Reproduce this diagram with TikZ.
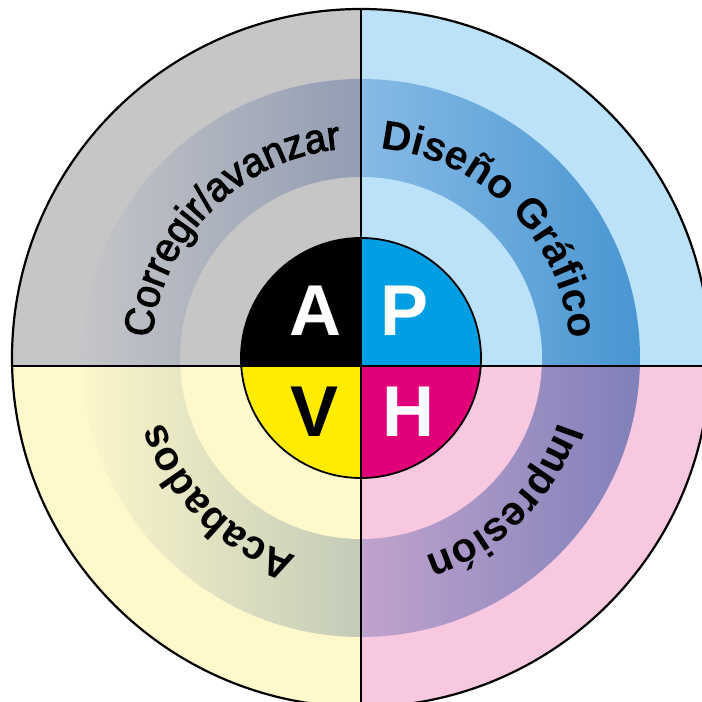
\documentclass[tikz,border=0pt]{standalone}
\usepackage{fontspec}
\setmainfont{Liberation Sans}
\newfontfamily\mediumface[FakeBold=2.5, FakeStretch=0.95]{Liberation Sans}
\usetikzlibrary{decorations.text}

% quadrant colours
\definecolor{qgray}{HTML}{C6C6C6}
\definecolor{qblue}{HTML}{BBE2F8}
\definecolor{qyellow}{HTML}{FEF8CB}
\definecolor{qpink}{HTML}{F7C8DF}
% ring gradients (left -> right)
\definecolor{bgrayL}{HTML}{C4C5C8}
\definecolor{bgrayR}{HTML}{929DB3}
\definecolor{bblueL}{HTML}{87BAE5}
\definecolor{bblueR}{HTML}{4896D2}
\definecolor{byelL}{HTML}{FCF6CA}
\definecolor{byelR}{HTML}{C3CBB8}
\definecolor{bpinkL}{HTML}{C0A3CD}
\definecolor{bpinkR}{HTML}{8080BA}
% hub colours
\definecolor{hubK}{HTML}{000000}
\definecolor{hubC}{HTML}{009FE3}
\definecolor{hubY}{HTML}{FFEC00}
\definecolor{hubM}{HTML}{E2007A}

\newcommand\bandfont{\fontsize{41pt}{41pt}\selectfont\bfseries}
\newcommand\bandmedfont{\fontsize{41pt}{41pt}\selectfont\mediumface}
\newcommand\hubfont{\fontsize{72pt}{72pt}\selectfont\bfseries}

\tikzset{
  ringtext/.style={decorate, decoration={text along path, text align=center, text={|\bandfont|#1}}},
  ringtextmed/.style={decorate, decoration={text along path, text align=center, text={|\bandmedfont|#1}}},
  hubletter/.style={inner sep=0pt, font=\hubfont},
  rim/.style={draw=black, line width=2.2pt},
  divider/.style={draw=black, line width=1.8pt},
}

\begin{document}
\begin{tikzpicture}[x=1pt,y=1pt]
\useasboundingbox (-361,-344) rectangle (341,358);

% radii and the horizontal split (slightly below the centre)
\def\Rout{349}
\def\Rband{279}
\def\Rin{181}
\def\Rhub{120}
\def\hy{-8}

% outer quadrants
\begin{scope}
  \clip (0,0) circle[radius=\Rout pt];
  \fill[qgray]   (-360,\hy) rectangle (0,360);
  \fill[qblue]   (0,\hy) rectangle (360,360);
  \fill[qyellow] (-360,-360) rectangle (0,\hy);
  \fill[qpink]   (0,-360) rectangle (360,\hy);
\end{scope}

% shaded ring
\begin{scope}
  \clip (0,0) circle[radius=\Rband pt];
  \shade[left color=bgrayL, right color=bgrayR] (-\Rband,\hy) rectangle (0,\Rband);
  \shade[left color=bblueL, right color=bblueR] (0,\hy) rectangle (\Rband,\Rband);
  \shade[left color=byelL, right color=byelR] (-\Rband,-\Rband) rectangle (0,\hy);
  \shade[left color=bpinkL, right color=bpinkR] (0,-\Rband) rectangle (\Rband,\hy);
\end{scope}
% light inner field inside the ring
\begin{scope}
  \clip (0,0) circle[radius=\Rin pt];
  \fill[qgray]   (-190,\hy) rectangle (0,190);
  \fill[qblue]   (0,\hy) rectangle (190,190);
  \fill[qyellow] (-190,-190) rectangle (0,\hy);
  \fill[qpink]   (0,-190) rectangle (190,\hy);
\end{scope}

% ring labels, running clockwise
\path[ringtextmed={Corregir/avanzar}] (180:210pt) arc[start angle=180, end angle=90, radius=210pt];
\path[ringtext={Diseño Gráfico}] (90:210pt) arc[start angle=90, end angle=0, radius=210pt];
\path[ringtext={Impresión}] (0:208pt) arc[start angle=0, end angle=-90, radius=208pt];
\path[ringtext={Acabados}] (-90:208pt) arc[start angle=-90, end angle=-180, radius=208pt];

% hub
\begin{scope}
  \clip (0,0) circle[radius=\Rhub pt];
  \fill[hubK] (-130,\hy) rectangle (0,130);
  \fill[hubC] (0,\hy) rectangle (130,130);
  \fill[hubY] (-130,-130) rectangle (0,\hy);
  \fill[hubM] (0,-130) rectangle (130,\hy);
\end{scope}
\node[hubletter, text=white] (lA) at (-45,47) {A};
\node[hubletter, text=white] (lP) at (44,47) {P};
\node[hubletter, text=black] (lV) at (-46,-54) {V};
\node[hubletter, text=white] (lH) at (47,-54) {H};

% dividers and rims
\coordinate (vt) at (0,\Rout);
\coordinate (vb) at (0,-\Rout);
\coordinate (hl) at (-348.9,\hy);
\coordinate (hr) at (348.9,\hy);
\path[divider] (vt) -- (vb);
\path[divider] (hl) -- (hr);
\draw[divider] (0,0) circle[radius=\Rhub pt];
\draw[rim] (0,0) circle[radius=\Rout pt];
\end{tikzpicture}
\end{document}
